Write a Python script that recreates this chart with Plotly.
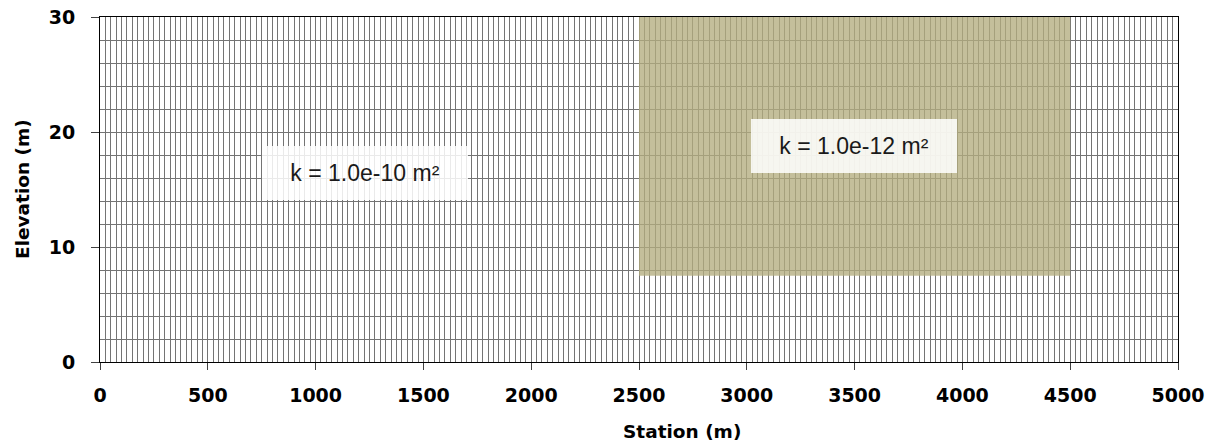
import plotly.graph_objects as go

# ---- data ----
station_range = [0, 5000]
elevation_range = [0, 30]
mesh_dx = 25          # m, vertical mesh lines
mesh_dz = 2           # m, horizontal mesh lines
x_tick_step = 500
y_tick_step = 10

# low-permeability block
block_x = [2500, 4500]
block_z = [7.5, 30]

# labels
label_text = ["k = 1.0e-10 m\u00b2", "k = 1.0e-12 m\u00b2"]
label_x = [1229, 3497]
label_z = [16.4, 18.8]

x_title = "Station (m)"
y_title = "Elevation (m)"

fig = go.Figure()
fig.add_trace(go.Scatter(x=station_range, y=elevation_range, mode="markers",
                         marker=dict(opacity=0), hoverinfo="skip", showlegend=False))

fig.add_shape(type="rect", xref="x", yref="y",
              x0=block_x[0], x1=block_x[1], y0=block_z[0], y1=block_z[1],
              fillcolor="rgb(180,173,127)", opacity=0.78, line=dict(width=0),
              layer="above")

for t, x, z in zip(label_text, label_x, label_z):
    fig.add_annotation(x=x, y=z, xref="x", yref="y", text=t, showarrow=False,
                       font=dict(family="Liberation Sans", size=23, color="#1a1a1a"),
                       bgcolor="rgba(255,255,255,0.85)", width=206, height=54,
                       borderpad=0, borderwidth=0)

titlefont = dict(family="DejaVu Sans", size=18.5, color="black", weight="bold")
fig.add_annotation(x=0.54, y=-0.2, xref="paper", yref="paper", yanchor="middle",
                   text=x_title, showarrow=False, font=titlefont)
fig.add_annotation(xref="paper", yref="paper", x=0, y=0.5, xshift=-90,
                   text=y_title, textangle=-90, showarrow=False, font=titlefont)

grid_col = "#747474"
tickfont = dict(family="DejaVu Sans", size=19, color="black", weight="bold")

fig.update_xaxes(range=station_range, dtick=x_tick_step, tick0=0,
                 showgrid=True, gridcolor=grid_col, gridwidth=1,
                 minor=dict(dtick=mesh_dx, showgrid=True, gridcolor=grid_col, gridwidth=1),
                 showline=True, linecolor="black", linewidth=1, mirror=True,
                 ticks="outside", ticklen=7, tickcolor="#404040",
                 ticklabelstandoff=9, automargin=False,
                 tickfont=tickfont, zeroline=False)
fig.update_yaxes(range=elevation_range, dtick=y_tick_step, tick0=0,
                 showgrid=True, gridcolor=grid_col, gridwidth=1,
                 minor=dict(dtick=mesh_dz, showgrid=True, gridcolor=grid_col, gridwidth=1),
                 showline=True, linecolor="black", linewidth=1, mirror=True,
                 ticks="outside", ticklen=8, tickcolor="#404040",
                 ticklabelstandoff=12, automargin=False,
                 tickfont=tickfont, zeroline=False)

fig.update_layout(width=1214, height=446,
                  margin=dict(l=100, r=36, t=17, b=84),
                  plot_bgcolor="white", paper_bgcolor="white",
                  showlegend=False)

fig.write_html("out.html")
